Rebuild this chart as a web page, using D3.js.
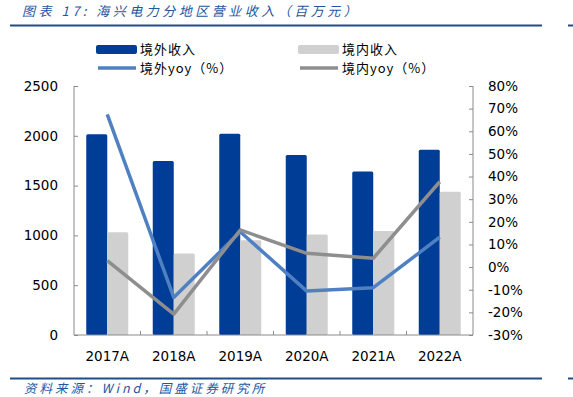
<!DOCTYPE html>
<html>
<head>
<meta charset="utf-8">
<script src="https://cdn.jsdelivr.net/npm/d3@7"></script>
<style>
  body { margin: 0; background: #fff; }
  svg { display: block; }
</style>
</head>
<body>
<div id="chart"></div>
<script>
/**
 * Data
 */
const years = ["2017A", "2018A", "2019A", "2020A", "2021A", "2022A"];
const overseasRev = [2016, 1746, 2020, 1806, 1642, 1859];
const domesticRev = [1031, 818, 951, 1008, 1045, 1438];
const overseasYoy = [67.5, -13.4, 15.6, -10.6, -9.1, 13.2];
const domesticYoy = [2.9, -20.8, 16.4, 6.1, 3.9, 37.7];
const leftTicks = [0, 500, 1000, 1500, 2000, 2500];
const rightTicks = [-30, -20, -10, 0, 10, 20, 30, 40, 50, 60, 70, 80];

const width = 573;
const height = 397;
const plot = { left: 74, right: 473, top: 86, bottom: 335 };

const darkBlue = "#003d96";
const lightGray = "#d0d0d0";
const lineBlue = "#4f81c2";
const lineGray = "#8e8e8e";
const ruleBlue = "#1f4e86";
const textBlue = "#2455a4";
const axisGray = "#8a8a8a";
const numFont = "'DejaVu Sans', Verdana, sans-serif";
const cjkFont = "'Noto Sans CJK SC', sans-serif";

const svg = d3.select("#chart")
  .append("svg")
  .attr("width", width)
  .attr("height", height)
  .style("background", "#fff");

/**
 * Title, rules and source note
 */
svg.append("text")
  .attr("x", 22)
  .attr("y", 15.5)
  .attr("font-family", cjkFont)
  .attr("font-size", 13)
  .attr("font-style", "italic")
  .attr("letter-spacing", 3.5)
  .attr("fill", textBlue)
  .text("图表 17:  海兴电力分地区营业收入（百万元）");

[25.5, 378.5].forEach(function(y) {
  svg.append("line")
    .attr("x1", 10).attr("x2", 542)
    .attr("y1", y).attr("y2", y)
    .attr("stroke", ruleBlue)
    .attr("stroke-width", 2);
  svg.append("line")
    .attr("x1", 568).attr("x2", 573)
    .attr("y1", y).attr("y2", y)
    .attr("stroke", ruleBlue)
    .attr("stroke-width", 2);
});

svg.append("text")
  .attr("x", 24)
  .attr("y", 393)
  .attr("font-family", cjkFont)
  .attr("font-size", 12.5)
  .attr("font-style", "italic")
  .attr("letter-spacing", 3)
  .attr("fill", textBlue)
  .text("资料来源：Wind，国盛证券研究所");

/**
 * Scales
 */
const x = d3.scaleBand()
  .domain(years)
  .range([plot.left, plot.right]);

const barW = 21;
const xSeries = d3.scaleBand()
  .domain(["overseas", "domestic"])
  .range([x.bandwidth() / 2 - barW, x.bandwidth() / 2 + barW]);

const yLeft = d3.scaleLinear()
  .domain([0, 2500])
  .range([plot.bottom, plot.top]);

const yRight = d3.scaleLinear()
  .domain([-30, 80])
  .range([plot.bottom, plot.top]);

/**
 * Bars
 */
const bars = [
  { key: "overseas", values: overseasRev, color: darkBlue },
  { key: "domestic", values: domesticRev, color: lightGray }
];

bars.forEach(function(s) {
  svg.append("g")
    .selectAll("rect")
    .data(s.values)
    .join("rect")
    .attr("x", function(d, i) { return x(years[i]) + xSeries(s.key); })
    .attr("y", function(d) { return yLeft(d); })
    .attr("width", xSeries.bandwidth())
    .attr("height", function(d) { return yLeft(0) - yLeft(d); })
    .attr("rx", 1.5)
    .attr("fill", s.color);
});

/**
 * Axes
 */
const leftAxis = svg.append("g")
  .attr("transform", `translate(${plot.left},0)`)
  .call(d3.axisLeft(yLeft).tickValues(leftTicks).tickSize(-4).tickPadding(16)
    .tickFormat(d3.format("d")));

const rightAxis = svg.append("g")
  .attr("transform", `translate(${plot.right},0)`)
  .call(d3.axisRight(yRight).tickValues(rightTicks).tickSize(-4).tickPadding(15)
    .tickFormat(function(d) { return d + "%"; }));

const bottomAxis = svg.append("g")
  .attr("transform", `translate(0,${plot.bottom})`)
  .call(d3.axisBottom(x).tickSize(0).tickPadding(16));

// category separators on the x axis
bottomAxis.selectAll("line.sep")
  .data(years.slice(1))
  .join("line")
  .attr("class", "sep")
  .attr("x1", function(d) { return x(d); })
  .attr("x2", function(d) { return x(d); })
  .attr("y1", 0)
  .attr("y2", -4);

[leftAxis, rightAxis, bottomAxis].forEach(function(g) {
  g.selectAll("path, line").attr("stroke", axisGray);
  g.selectAll("text")
    .attr("font-family", numFont)
    .attr("font-size", 13.5)
    .attr("fill", "#000");
});
rightAxis.select("path").attr("d", `M0,${plot.top}V${plot.bottom}`);
leftAxis.select("path").attr("d", `M0,${plot.top}V${plot.bottom}`);
bottomAxis.select("path").attr("d", `M${plot.left},0H${plot.right}`);

/**
 * Lines
 */
const line = d3.line()
  .x(function(d, i) { return x(years[i]) + x.bandwidth() / 2; })
  .y(function(d) { return yRight(d); });

[[overseasYoy, lineBlue], [domesticYoy, lineGray]].forEach(function(s) {
  svg.append("path")
    .datum(s[0])
    .attr("d", line)
    .attr("fill", "none")
    .attr("stroke", s[1])
    .attr("stroke-width", 3.5)
    .attr("stroke-linejoin", "round");
});

/**
 * Legend
 */
const legendItems = [
  { label: "境外收入", color: darkBlue, type: "rect", x: 96, y: 49.5 },
  { label: "境内收入", color: lightGray, type: "rect", x: 298, y: 49.5 },
  { label: "境外yoy（%）", color: lineBlue, type: "line", x: 98, y: 68 },
  { label: "境内yoy（%）", color: lineGray, type: "line", x: 300, y: 68 }
];

const legend = svg.append("g")
  .selectAll("g")
  .data(legendItems)
  .join("g")
  .attr("transform", function(d) { return `translate(${d.x},${d.y})`; });

legend.filter(function(d) { return d.type === "rect"; })
  .append("rect")
  .attr("x", 0).attr("y", -4.5)
  .attr("width", 41).attr("height", 9)
  .attr("rx", 2)
  .attr("fill", function(d) { return d.color; });

legend.filter(function(d) { return d.type === "line"; })
  .append("line")
  .attr("x1", 0).attr("x2", 38)
  .attr("y1", 0).attr("y2", 0)
  .attr("stroke", function(d) { return d.color; })
  .attr("stroke-width", 3.5);

legend.append("text")
  .attr("x", function(d) { return d.type === "rect" ? 44 : 42; })
  .attr("y", 4.5)
  .attr("font-family", cjkFont)
  .attr("font-size", 13)
  .attr("letter-spacing", 1)
  .attr("fill", "#000")
  .text(function(d) { return d.label; });
</script>
</body>
</html>
